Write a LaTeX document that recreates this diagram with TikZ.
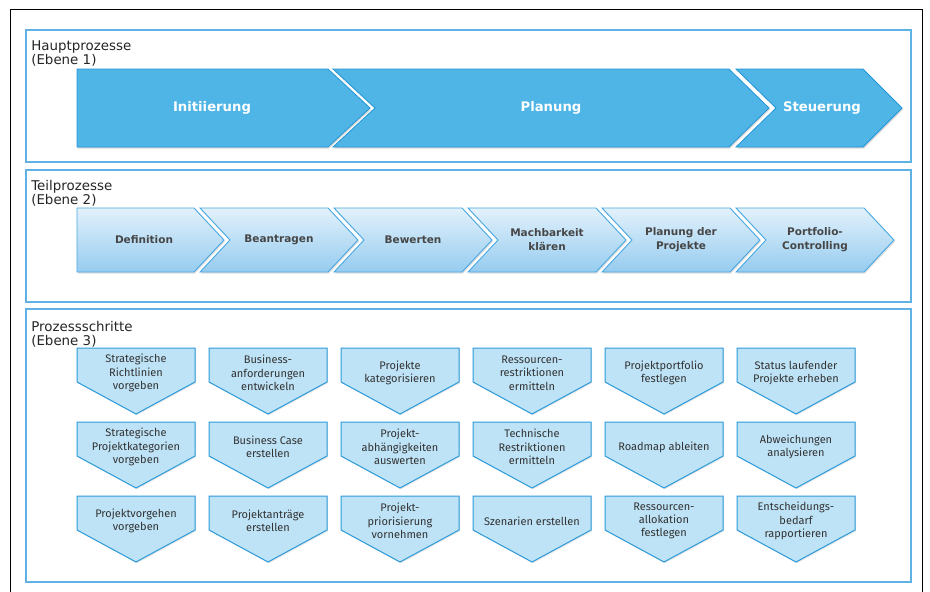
\documentclass[tikz,border=0pt]{standalone}
\usepackage{fontspec}
\usepackage{tikz}
\usetikzlibrary{shadows}
\setmainfont{DejaVu Sans}
\newfontfamily\stepfont{Fira Sans}
\definecolor{frameBlue}{RGB}{96,178,230}
\definecolor{mainBlue}{RGB}{78,181,230}
\definecolor{mainEdge}{RGB}{36,150,212}
\definecolor{subTop}{RGB}{226,241,251}
\definecolor{subBottom}{RGB}{150,204,240}
\definecolor{subEdge}{RGB}{72,168,225}
\definecolor{stepFill}{RGB}{190,227,247}
\definecolor{stepEdge}{RGB}{44,155,218}
\definecolor{textGray}{RGB}{50,50,50}

% Teilprozess mit Kerbe links, #1 = linke Kante
\newcommand{\subchev}[1]{%
  \draw[subarrow] (#1,208) -- ++(128,0) -- ++(30,32) -- ++(-30,32) -- ++(-128,0) -- ++(30,-32) -- cycle;}
% Prozessschritt, #1 = links, #2 = oben, #3 = Name, #4 = Text
\newcommand{\prstep}[4]{%
  \draw[stepshape] (#1,#2) -- ++(118,0) -- ++(0,34) -- ++(-59,32) -- ++(-59,-32) -- cycle;
  \node[steptext] (#3) at ([shift={(59,25)}]#1,#2) {#4};}

\begin{document}
\begin{tikzpicture}[x=1pt,y=-1pt,semithick]
  \tikzstyle{panel}=[draw=frameBlue,line width=1.3pt,fill=white,drop shadow={opacity=0.15,shadow xshift=1pt,shadow yshift=-1pt}]
  \tikzstyle{levtitle}=[anchor=base west,inner sep=0pt,text=black!85,font=\fontsize{13.4}{15}\selectfont]
  \tikzstyle{mainarrow}=[fill=mainBlue,draw=mainEdge,line width=0.8pt,drop shadow={opacity=0.3,shadow xshift=1pt,shadow yshift=-1.5pt}]
  \tikzstyle{maintext}=[text=white,font=\bfseries\fontsize{13.2}{15}\selectfont]
  \tikzstyle{subarrow}=[top color=subTop,bottom color=subBottom,draw=subEdge,line width=0.9pt,drop shadow={opacity=0.25,shadow xshift=1pt,shadow yshift=-1.5pt}]
  \tikzstyle{subtext}=[align=center,text=textGray!90,font=\bfseries\fontsize{10.5}{14}\selectfont]
  \tikzstyle{stepshape}=[fill=stepFill,draw=stepEdge,line width=1pt,drop shadow={opacity=0.2,shadow xshift=1pt,shadow yshift=-1.2pt}]
  \tikzstyle{steptext}=[align=center,text=textGray,font=\stepfont\fontsize{11}{13.3}\selectfont]

  \useasboundingbox (0,0) rectangle (930,592);
  \fill[white] (0,0) rectangle (930,592);
  \draw[black,line width=0.8pt] (10.5,592) -- (10.5,9.5) -- (922.5,9.5) -- (922.5,592);

  \draw[panel] (26,30) rectangle (911,162);
  \draw[panel] (26,170) rectangle (911,302);
  \draw[panel] (26,309) rectangle (911,582);

  \node[levtitle] (hp)   at (31,50) {Hauptprozesse};
  \node[levtitle] (hpeb) at (31,64) {(Ebene 1)};
  \node[levtitle] (tp)   at (31,190) {Teilprozesse};
  \node[levtitle] (tpeb) at (31,204) {(Ebene 2)};
  \node[levtitle] (ps)   at (31,331) {Prozessschritte};
  \node[levtitle] (pseb) at (31,345) {(Ebene 3)};

  \draw[mainarrow] (77,69) -- (328,69) -- (370,108) -- (328,147) -- (77,147) -- cycle;
  \draw[mainarrow] (333,69) -- (729,69) -- (769,108) -- (729,147) -- (333,147) -- (375,108) -- cycle;
  \draw[mainarrow] (736,69) -- (863,69) -- (902,108) -- (863,147) -- (736,147) -- (776,108) -- cycle;
  \node[maintext] (init) at (212,108) {Initiierung};
  \node[maintext] (plan) at (551,108) {Planung};
  \node[maintext] (steu) at (822,108) {Steuerung};

  \draw[subarrow] (77,208) -- (194,208) -- (224,240) -- (194,272) -- (77,272) -- cycle;
  \subchev{200}
  \subchev{334}
  \subchev{468}
  \subchev{602}
  \subchev{736}
  \node[subtext] (defi) at (144,240) {Definition};
  \node[subtext] (bean) at (279,240) {Beantragen};
  \node[subtext] (bewe) at (413,240) {Bewerten};
  \node[subtext] (mach) at (547,240) {Machbarkeit\\klären};
  \node[subtext] (plpr) at (681,240) {Planung der\\Projekte};
  \node[subtext] (porc) at (815,240) {Portfolio-\\Controlling};

  \prstep{77}{348}{srv}{Strategische\\Richtlinien\\vorgeben}
  \prstep{77}{422}{spv}{Strategische\\Projektkategorien\\vorgeben}
  \prstep{77}{496}{pvv}{Projektvorgehen\\vorgeben}
  \prstep{209}{348}{bae}{Business-\\anforderungen\\entwickeln}
  \prstep{209}{422}{bce}{Business Case\\erstellen}
  \prstep{209}{496}{pae}{Projektanträge\\erstellen}
  \prstep{341}{348}{pka}{Projekte\\kategorisieren}
  \prstep{341}{422}{paa}{Projekt-\\abhängigkeiten\\auswerten}
  \prstep{341}{496}{ppv}{Projekt-\\priorisierung\\vornehmen}
  \prstep{473}{348}{rre}{Ressourcen-\\restriktionen\\ermitteln}
  \prstep{473}{422}{tre}{Technische\\Restriktionen\\ermitteln}
  \prstep{473}{496}{sze}{Szenarien erstellen}
  \prstep{605}{348}{ppf}{Projektportfolio\\festlegen}
  \prstep{605}{422}{rma}{Roadmap ableiten}
  \prstep{605}{496}{raf}{Ressourcen-\\allokation\\festlegen}
  \prstep{737}{348}{slp}{Status laufender\\Projekte erheben}
  \prstep{737}{422}{abw}{Abweichungen\\analysieren}
  \prstep{737}{496}{ebr}{Entscheidungs-\\bedarf\\rapportieren}
\end{tikzpicture}
\end{document}
